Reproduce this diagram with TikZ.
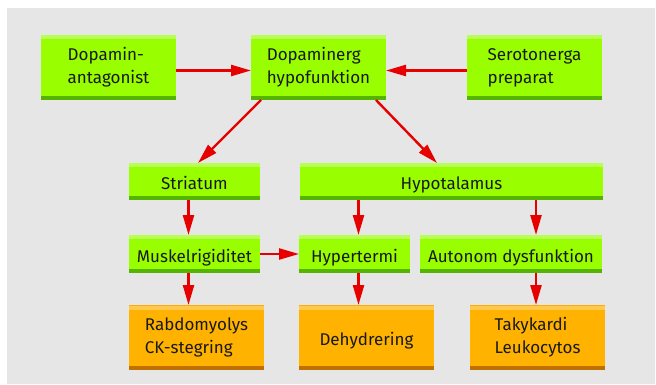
\documentclass[tikz,border=0pt]{standalone}
\usepackage{fontspec}
\setmainfont{Fira Sans}
\usetikzlibrary{arrows.meta,calc}
\definecolor{bggray}{HTML}{E6E6E6}
\definecolor{gmain}{HTML}{99FF00}
\definecolor{glight}{HTML}{B8FF55}
\definecolor{gdark}{HTML}{55B400}
\definecolor{omain}{HTML}{FFB300}
\definecolor{olight}{HTML}{FFC94F}
\definecolor{odark}{HTML}{BF7000}
\definecolor{arrred}{HTML}{E60000}
\tikzset{
  box/.style={rectangle, inner sep=0pt, outer sep=0pt, align=left,
    font=\fontsize{17}{23}\selectfont, text=black!90},
  oneline/.style={text height=16pt, text depth=0pt},
  gbox/.style={box, fill=gmain, path picture={
    \fill[glight] (path picture bounding box.north west) rectangle ([yshift=-4pt]path picture bounding box.north east);
    \fill[gdark] ([yshift=4pt]path picture bounding box.south west) rectangle (path picture bounding box.south east);}},
  obox/.style={box, fill=omain, path picture={
    \fill[olight] (path picture bounding box.north west) rectangle ([yshift=-5pt]path picture bounding box.north east);
    \fill[omain!85!orange] (path picture bounding box.north west) rectangle ([yshift=-1pt]path picture bounding box.north east);
    \fill[odark] ([yshift=4pt]path picture bounding box.south west) rectangle (path picture bounding box.south east);}},
  conn/.style={draw=arrred, line width=2.4pt, -{Triangle[length=20pt,width=11pt]}},
}
\begin{document}
\begin{tikzpicture}[x=1pt,y=-1pt]
\useasboundingbox (0,0) rectangle (656,385);
\fill[white] (0,0) rectangle (656,385);
\fill[bggray] (7,8) rectangle (655,384);
% row 1
\node[gbox, minimum width=135pt, minimum height=65pt] (danta) at (108.5,67.5) {Dopamin-\\antagonist};
\node[gbox, minimum width=135pt, minimum height=65pt] (dhypo) at (318.5,67.5) {Dopaminerg\\hypofunktion};
\node[gbox, minimum width=135pt, minimum height=65pt] (sero) at (534.5,67.5) {Serotonerga\\preparat};
% row 2
\node[gbox, oneline, minimum width=131pt, minimum height=37pt] (stri) at (194.5,181.5) {Striatum};
\node[gbox, oneline, minimum width=303pt, minimum height=37pt] (hypot) at (451.5,181.5) {Hypotalamus};
% row 3
\node[gbox, oneline, minimum width=131pt, minimum height=38pt] (musk) at (194.5,254) {Muskelrigiditet};
\node[gbox, oneline, minimum width=111pt, minimum height=38pt] (hyper) at (354.5,254) {Hypertermi};
\node[gbox, oneline, minimum width=182pt, minimum height=38pt] (auto) at (511,254) {Autonom dysfunktion};
% row 4
\node[obox, minimum width=135pt, minimum height=65pt] (rabdo) at (196.5,337.5) {Rabdomyolys\\CK-stegring};
\node[obox, oneline, minimum width=135pt, minimum height=65pt] (dehyd) at (366.5,337.5) {Dehydrering};
\node[obox, minimum width=135pt, minimum height=65pt] (taky) at (537.5,337.5) {Takykardi\\Leukocytos};
% column guides
\coordinate (c1) at (188.5,0);
\coordinate (c2) at (358.5,0);
\coordinate (c3) at (536,0);
% connectors
\draw[conn] ([yshift=-3pt]danta.east) -- ([yshift=-3pt]dhypo.west);
\draw[conn] ([yshift=-3pt]sero.west) -- ([yshift=-3pt]dhypo.east);
\draw[conn] ([xshift=10pt]dhypo.south west) -- ([xshift=3.5pt]stri.north);
\draw[conn] ([xshift=-10pt]dhypo.south east) -- ([xshift=137pt]hypot.north west);
\draw[conn] (stri.south -| c1) -- (musk.north -| c1);
\draw[conn] (hypot.south -| c2) -- (hyper.north -| c2);
\draw[conn] (hypot.south -| c3) -- (auto.north -| c3);
\draw[conn] (musk.east) -- (hyper.west);
\draw[conn] (musk.south -| c1) -- (rabdo.north -| c1);
\draw[conn] (hyper.south -| c2) -- (dehyd.north -| c2);
\draw[conn] (auto.south -| c3) -- (taky.north -| c3);
\end{tikzpicture}
\end{document}
